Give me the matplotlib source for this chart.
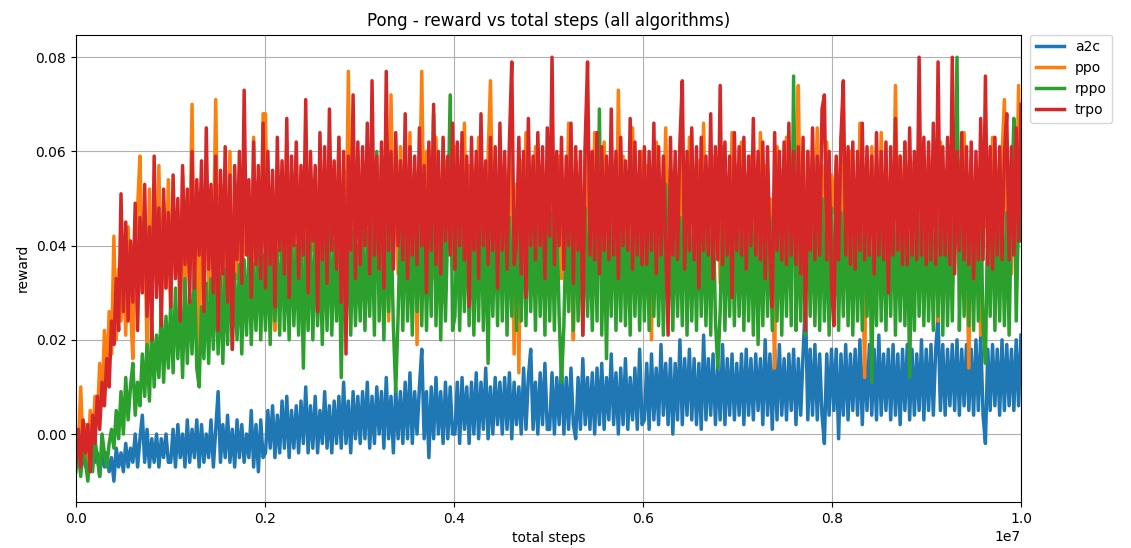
import numpy as np
import matplotlib
matplotlib.use("Agg")
import matplotlib.pyplot as plt

# reward values, in units of 1e-3,
# evenly spaced samples over 0..1e7 total steps (40 per 1e6 steps)
algorithms = ["a2c", "ppo", "rppo", "trpo"]

a2c_milli = [
    -7, -4, -8, -3, -7, -5, -8, -3, -6, -4, -9, -3, -7, -4, -8, -5, -10, -3, -7, -4,
    -8, -2, -7, -3, -6, 0, -7, -1, 4, -6, 1, -7, -1, -6, 0, -7, -1, -5, 0, -6,
    -6, 1, -7, 2, -5, 0, -7, 3, -6, 1, -5, 3, -7, 2, -6, 0, -5, 3, -7, 1,
    9, -6, 2, -5, 4, -6, 1, -7, 3, -5, 2, -6, 0, -5, 5, -7, 2, -8, 3, -5,
    -4, 5, -3, 6, -5, 4, -4, 7, -3, 8, -5, 5, -3, 6, -4, 7, -2, 10, -4, 6,
    -3, 8, -4, 5, -2, 9, -3, 6, -4, 7, -2, 8, -3, 11, -2, 7, -4, 9, -1, 8,
    -2, 9, -1, 11, -3, 8, -2, 10, 0, 9, -3, 12, -1, 8, -4, 10, -1, 9, -2, 11,
    -1, 13, -2, 9, 0, 10, 18, -1, 9, -5, 10, -1, 12, 0, 9, -2, 11, -1, 10, 0,
    0, 11, -2, 12, 1, 10, -2, 11, 0, 13, -1, 11, 1, 14, -1, 10, 0, 12, 2, 11,
    0, 12, 1, 13, -1, 11, 2, 10, 0, 14, 1, 12, 18, 1, 11, 0, 13, 2, 15, 1,
    1, 13, 0, 12, 2, 15, 0, 12, 1, 14, 2, -1, 12, 1, 16, 2, 12, 1, 13, 0,
    14, 2, 15, 1, 12, 3, 17, 2, 13, 0, 14, 2, 16, 1, 12, 3, 14, 1, 18, 2,
    3, 15, 1, 17, 3, 14, 2, 19, 4, 15, 2, 16, 0, 15, 3, 20, 2, 16, 4, 18,
    3, 16, 2, 15, 1, 21, 3, 16, 4, 17, 2, 15, 3, 19, 2, 16, 4, 17, 3, 15,
    4, 17, 2, 18, 4, 16, 3, 17, 5, 16, 2, 20, 4, 17, 1, 18, 3, 19, 4, 16,
    3, 17, 5, 18, 2, 16, 4, 17, 28, 3, 18, 4, 19, 3, 17, 4, -2, 17, 4, 18,
    5, 18, -1, 17, 4, 19, 3, 17, 5, 18, 4, 20, 2, 17, 5, 19, 4, 18, 3, 21,
    4, 17, 5, 18, 3, 19, 4, 17, 2, 18, 5, 19, 3, 18, 4, 17, 5, 20, 3, 18,
    5, 19, 4, 18, 25, 5, 19, 4, 18, 6, 19, 5, 20, 4, 18, 6, 19, 5, 18, 4,
    20, 5, 21, 4, -2, 18, 5, 19, 6, 18, 4, 20, 5, 19, 6, 18, 5, 20, 6, 21,
]

ppo_milli = [
    -8, -3, 10, -5, 2, -6, 5, -2, 8, 3, 15, 6, 22, 11, 26, 17, 42, 20, 35, 24,
    38, 21, 44, 27, 16, 40, 48, 59, 30, 45, 17, 52, 28, 46, 33, 57, 25, 49, 31, 54,
    26, 50, 34, 47, 23, 55, 30, 44, 38, 70, 27, 51, 16, 48, 35, 58, 29, 46, 40, 71,
    32, 53, 24, 49, 37, 60, 28, 45, 33, 56, 22, 52, 39, 47, 30, 63, 26, 54, 36, 68,
    68, 35, 52, 29, 22, 57, 38, 49, 31, 62, 36, 54, 27, 59, 41, 47, 33, 64, 28, 55,
    39, 50, 30, 61, 35, 53, 26, 58, 42, 48, 34, 63, 29, 56, 37, 77, 31, 52, 40, 60,
    35, 58, 41, 53, 33, 62, 38, 50, 44, 59, 30, 55, 24, 72, 39, 57, 34, 61, 42, 52,
    36, 64, 31, 56, 19, 48, 77, 37, 60, 43, 51, 33, 63, 40, 54, 28, 58, 45, 49, 35,
    61, 38, 54, 42, 66, 33, 57, 46, 50, 36, 63, 40, 55, 31, 59, 75, 44, 52, 37, 62,
    41, 56, 34, 60, 47, 17, 53, 13, 58, 39, 64, 35, 51, 43, 61, 30, 57, 45, 49, 38,
    63, 37, 55, 44, 59, 33, 52, 41, 66, 36, 20, 58, 47, 53, 34, 61, 40, 56, 31, 64,
    43, 50, 38, 62, 35, 57, 45, 54, 32, 73, 42, 59, 37, 51, 46, 65, 34, 55, 40, 60,
    36, 57, 44, 20, 53, 62, 38, 49, 42, 65, 33, 56, 47, 51, 35, 60, 41, 54, 31, 63,
    45, 50, 37, 58, 43, 66, 34, 52, 48, 59, 39, 55, 32, 61, 46, 53, 36, 64, 42, 57,
    40, 62, 35, 55, 46, 59, 33, 52, 43, 64, 38, 57, 48, 50, 36, 14, 61, 41, 56, 34,
    63, 45, 53, 39, 58, 74, 37, 54, 44, 60, 32, 51, 47, 65, 36, 57, 42, 62, 38, 55,
    47, 58, 35, 63, 41, 53, 38, 60, 44, 51, 33, 66, 40, 12, 56, 46, 61, 37, 54, 42,
    64, 34, 57, 48, 52, 39, 74, 43, 59, 36, 62, 45, 50, 31, 58, 47, 65, 38, 55, 44,
    59, 40, 53, 46, 24, 62, 37, 56, 43, 61, 35, 54, 48, 58, 33, 64, 41, 14, 57, 45,
    52, 38, 21, 60, 44, 55, 36, 63, 42, 50, 47, 59, 71, 39, 56, 34, 61, 46, 74, 43,
]

rppo_milli = [
    -7, -4, -9, -2, -6, -10, -3, -8, -1, -5, -9, 0, -4, -7, -2, 1, -3, 5, -1, 9,
    0, 12, 3, 10, 15, 4, 11, 6, 17, 8, 19, 7, 24, 10, 21, 12, 27, 11, 25, 14,
    28, 13, 31, 16, 29, 12, 33, 15, 30, 17, 35, 14, 10, 27, 16, 32, 15, 33, 18, 36,
    17, 34, 15, 35, 19, 38, 18, 34, 20, 36, 17, 37, 21, 39, 19, 36, 22, 40, 20, 38,
    22, 40, 19, 42, 24, 39, 21, 44, 22, 41, 20, 43, 23, 40, 21, 42, 14, 41, 22, 43,
    20, 42, 23, 40, 19, 44, 22, 45, 21, 41, 24, 43, 12, 42, 22, 44, 21, 43, 23, 40,
    24, 45, 22, 43, 25, 47, 21, 60, 24, 44, 20, 47, 26, 45, 23, 9, 25, 46, 22, 50,
    24, 44, 21, 47, 26, 45, 23, 49, 22, 46, 25, 68, 23, 47, 20, 48, 24, 45, 72, 22,
    25, 47, 22, 46, 26, 49, 23, 48, 21, 47, 24, 51, 22, 46, 15, 48, 25, 47, 23, 49,
    24, 52, 21, 46, 25, 48, 22, 47, 24, 50, 23, 49, 26, 46, 22, 48, 25, 47, 21, 49,
    24, 47, 22, 48, 25, 11, 23, 46, 26, 49, 22, 50, 24, 47, 21, 48, 25, 46, 22, 49,
    24, 69, 21, 47, 16, 48, 25, 51, 22, 47, 24, 49, 23, 46, 21, 49, 25, 47, 22, 48,
    24, 48, 22, 50, 25, 47, 23, 49, 21, 53, 24, 47, 22, 48, 25, 46, 23, 55, 21, 48,
    24, 47, 22, 49, 25, 46, 23, 48, 21, 50, 24, 14, 26, 48, 22, 47, 25, 50, 23, 48,
    25, 47, 22, 49, 24, 48, 21, 50, 19, 47, 23, 49, 25, 46, 22, 52, 24, 48, 21, 49,
    25, 53, 23, 76, 22, 47, 24, 48, 21, 51, 25, 47, 23, 49, 22, 50, 24, 46, 21, 48,
    24, 48, 22, 47, 25, 51, 23, 48, 21, 49, 24, 47, 22, 50, 25, 48, 11, 47, 23, 50,
    24, 48, 22, 49, 25, 52, 21, 48, 24, 47, 23, 49, 12, 47, 22, 51, 25, 48, 23, 49,
    24, 47, 22, 49, 25, 48, 21, 53, 23, 47, 24, 51, 80, 22, 48, 25, 50, 23, 47, 22,
    49, 24, 48, 23, 15, 47, 25, 52, 22, 48, 24, 49, 23, 47, 21, 48, 67, 24, 47, 41,
]

trpo_milli = [
    -6, 1, -7, 3, -4, 2, -8, 4, -2, 8, 1, 11, 6, 16, 10, 24, 19, 33, 22, 51,
    26, 45, 24, 41, 28, 49, 22, 46, 30, 53, 25, 44, 20, 59, 29, 48, 23, 52, 31, 47,
    27, 55, 33, 50, 24, 57, 36, 52, 28, 60, 31, 54, 38, 58, 26, 65, 35, 53, 30, 59,
    22, 56, 34, 61, 28, 55, 18, 57, 37, 60, 32, 73, 38, 54, 29, 62, 36, 57, 33, 66,
    31, 60, 36, 56, 27, 63, 39, 58, 34, 67, 29, 59, 40, 62, 33, 57, 38, 71, 30, 60,
    41, 57, 26, 64, 37, 61, 32, 69, 39, 58, 35, 63, 28, 60, 17, 59, 39, 72, 33, 62,
    36, 61, 40, 66, 34, 75, 38, 59, 35, 62, 31, 77, 39, 60, 35, 64, 40, 58, 37, 68,
    33, 61, 38, 59, 36, 65, 40, 57, 30, 62, 39, 70, 36, 60, 34, 63, 41, 59, 38, 66,
    35, 62, 40, 64, 37, 59, 27, 63, 39, 60, 33, 68, 40, 58, 36, 63, 39, 61, 31, 66,
    39, 60, 35, 62, 79, 36, 41, 63, 34, 60, 29, 67, 40, 59, 37, 64, 40, 61, 33, 65,
    42, 80, 36, 60, 40, 63, 35, 59, 40, 66, 32, 61, 39, 60, 21, 62, 79, 38, 60, 37,
    64, 34, 61, 39, 59, 37, 69, 38, 60, 33, 63, 40, 58, 39, 67, 35, 62, 38, 60, 36,
    61, 36, 60, 39, 66, 34, 61, 38, 59, 40, 21, 63, 38, 60, 37, 62, 75, 35, 60, 39,
    65, 37, 61, 31, 63, 39, 59, 38, 68, 33, 61, 37, 74, 36, 62, 38, 59, 29, 64, 39,
    61, 38, 63, 35, 59, 40, 67, 38, 60, 37, 62, 33, 61, 38, 27, 64, 39, 60, 37, 62,
    36, 66, 38, 60, 36, 61, 34, 63, 22, 60, 39, 65, 37, 59, 38, 69, 72, 37, 60, 32,
    23, 59, 37, 63, 75, 38, 61, 36, 62, 35, 60, 39, 66, 37, 61, 38, 59, 34, 64, 38,
    60, 37, 62, 30, 61, 38, 67, 39, 59, 36, 62, 36, 65, 38, 60, 37, 80, 38, 63, 36,
    62, 37, 66, 36, 79, 38, 61, 38, 63, 36, 80, 34, 60, 39, 64, 37, 61, 36, 62, 33,
    60, 37, 67, 37, 76, 36, 61, 35, 63, 38, 61, 37, 59, 68, 37, 61, 38, 65, 41, 70,
]

total_steps_max = 1e7

series = {
    "a2c": a2c_milli,
    "ppo": ppo_milli,
    "rppo": rppo_milli,
    "trpo": trpo_milli,
}

fig = plt.figure(figsize=(11.31, 5.48), dpi=100)
ax = fig.add_axes([0.0672, 0.0842, 0.8355, 0.8526])

for name in algorithms:
    vals = np.array(series[name]) / 1000.0
    steps = np.linspace(0, total_steps_max, len(vals))
    ax.plot(steps, vals, linewidth=2.5, label=name)

ax.set_xlim(0, total_steps_max)
ax.set_ylim(-0.0144, 0.0848)
ax.set_title("Pong - reward vs total steps (all algorithms)")
ax.set_xlabel("total steps")
ax.set_ylabel("reward")
ax.grid(True)
ax.legend(loc="upper left", bbox_to_anchor=(1.01, 1.0), borderaxespad=0)

fig.savefig("out.png", dpi=100)
